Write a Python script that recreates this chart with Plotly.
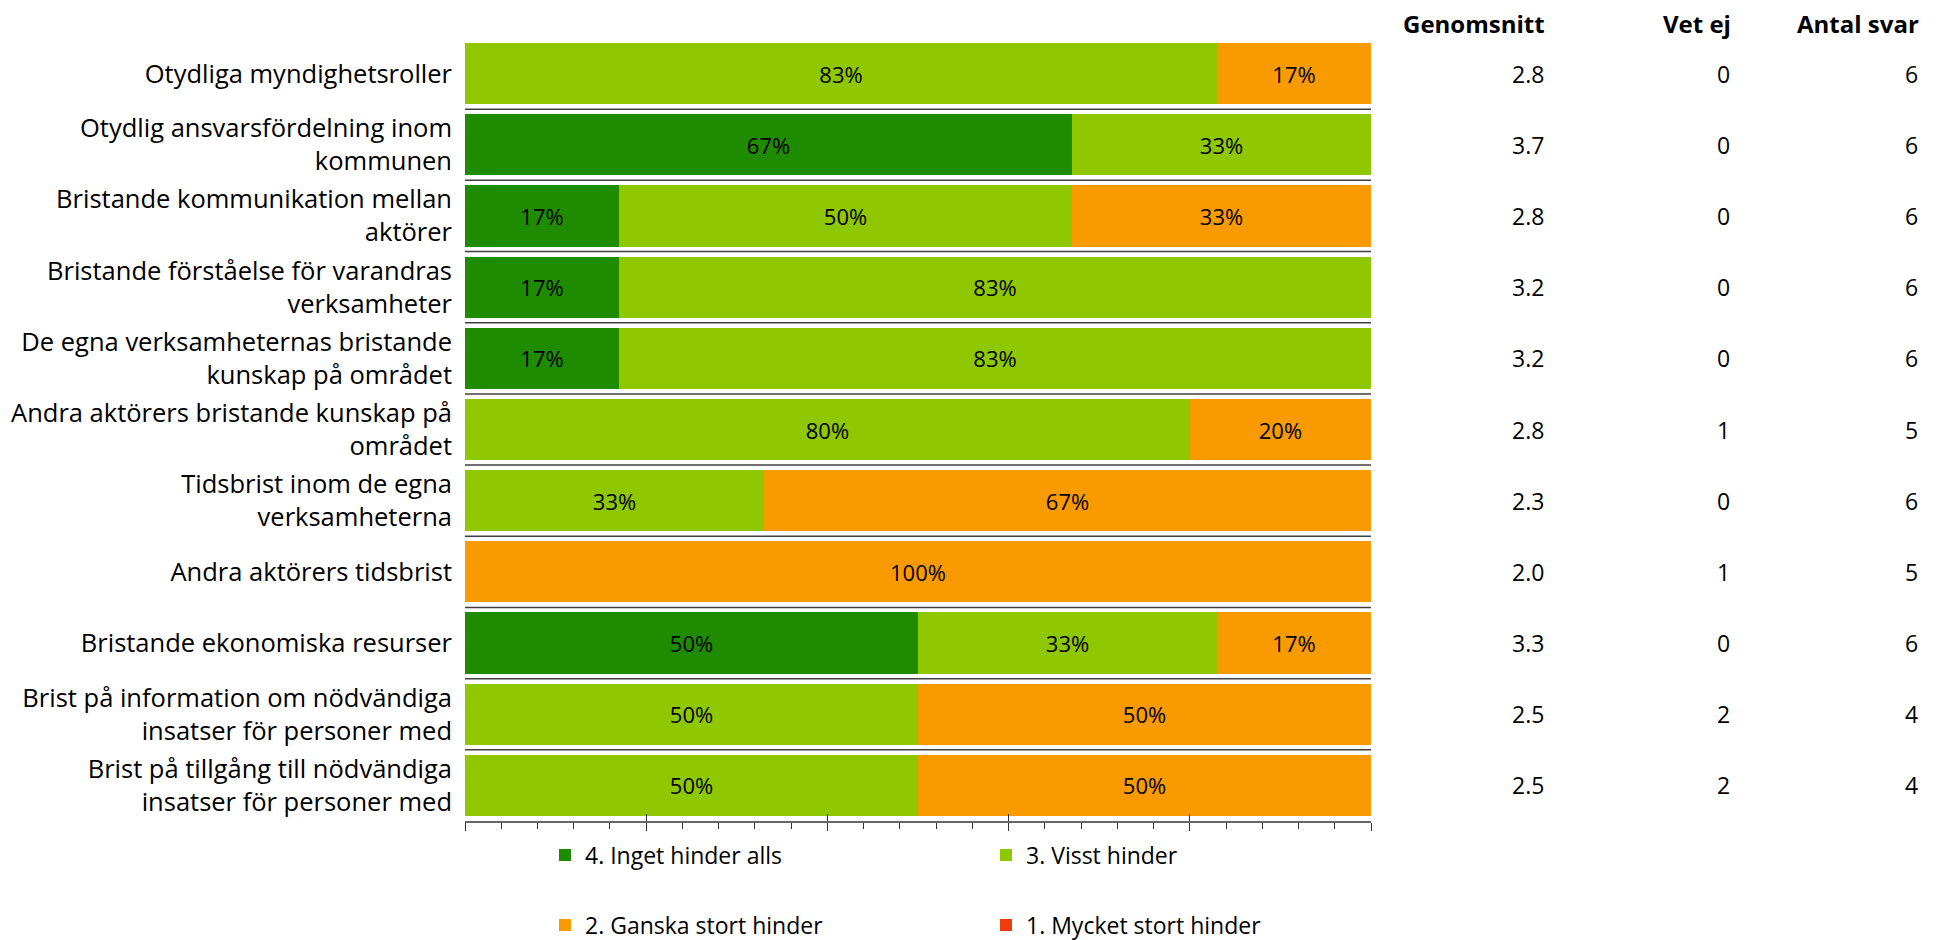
import plotly.graph_objects as go

categories = [
    "Otydliga myndighetsroller",
    "Otydlig ansvarsfördelning inom<br>kommunen",
    "Bristande kommunikation mellan<br>aktörer",
    "Bristande förståelse för varandras<br>verksamheter",
    "De egna verksamheternas bristande<br>kunskap på området",
    "Andra aktörers bristande kunskap på<br>området",
    "Tidsbrist inom de egna<br>verksamheterna",
    "Andra aktörers tidsbrist",
    "Bristande ekonomiska resurser",
    "Brist på information om nödvändiga<br>insatser för personer med",
    "Brist på tillgång till nödvändiga<br>insatser för personer med",
]

inget_hinder = [0, 67, 17, 17, 17, 0, 0, 0, 50, 0, 0]
visst_hinder = [83, 33, 50, 83, 83, 80, 33, 0, 33, 50, 50]
ganska_stort = [17, 0, 33, 0, 0, 20, 67, 100, 17, 50, 50]
mycket_stort = [0, 0, 0, 0, 0, 0, 0, 0, 0, 0, 0]

genomsnitt = ["2.8", "3.7", "2.8", "3.2", "3.2", "2.8", "2.3", "2.0", "3.3", "2.5", "2.5"]
vet_ej = [0, 0, 0, 0, 0, 1, 0, 1, 0, 2, 2]
antal_svar = [6, 6, 6, 6, 6, 5, 6, 5, 6, 4, 4]

series = [
    ("4. Inget hinder alls", inget_hinder, "#1F8C00", "legend"),
    ("3. Visst hinder", visst_hinder, "#8FC800", "legend"),
    ("2. Ganska stort hinder", ganska_stort, "#F99B00", "legend2"),
    ("1. Mycket stort hinder", mycket_stort, "#F03C0A", "legend2"),
]

FONT = "Open Sans"
# page body has an 8px margin, so the figure is 8px smaller and all positions shifted by 8
W, H = 1935, 932
ML, MT = 457, 30
PLOT_W, PLOT_H = 906, 783
MR = W - ML - PLOT_W
MB = H - MT - PLOT_H

fig = go.Figure()
for name, vals, color, lg in series:
    fig.add_trace(go.Bar(
        name=name, y=categories, x=vals, orientation="h",
        marker=dict(color=color, line=dict(width=0)),
        text=[f"{v}%" if v > 0 else "" for v in vals],
        textposition="inside", insidetextanchor="middle",
        insidetextfont=dict(family=FONT, size=22, color="black"),
        textangle=0, legend=lg, hoverinfo="x+y+name",
    ))

# overlay axis for the upward half of the major ticks
fig.add_trace(go.Scatter(x=[0, 100], y=[categories[0], categories[0]], xaxis="x2",
                         mode="markers", marker=dict(opacity=0), showlegend=False,
                         hoverinfo="skip"))

shapes = []
for i in range(len(categories) - 1):
    shapes.append(dict(type="line", xref="paper", yref="y", x0=0, x1=1,
                       y0=i + 0.5, y1=i + 0.5, line=dict(color="#404040", width=1.5)))

annotations = []
cols = [("Genomsnitt", genomsnitt, 1538), ("Vet ej", vet_ej, 1724), ("Antal svar", antal_svar, 1912)]
for head, vals, px in cols:
    xp = (px - ML) / PLOT_W
    annotations.append(dict(text=f"<b>{head}</b>", x=xp, xref="paper", xanchor="right",
                            y=1 + (MT - 16) / PLOT_H, yref="paper", yanchor="middle",
                            borderpad=0, showarrow=False,
                            font=dict(family=FONT, size=24, color="black")))
    for cat, v in zip(categories, vals):
        annotations.append(dict(text=str(v), x=xp, xref="paper", xanchor="right",
                                y=cat, yref="y", yanchor="middle", showarrow=False,
                                font=dict(family=FONT, size=23, color="black")))

fig.update_layout(
    width=W, height=H, barmode="stack", bargap=0.14,
    margin=dict(l=ML, r=MR, t=MT, b=MB, autoexpand=False),
    paper_bgcolor="white", plot_bgcolor="white",
    font=dict(family=FONT, color="black"),
    xaxis=dict(range=[0, 100], showgrid=False, zeroline=False, showline=True,
               linecolor="#666666", linewidth=2, showticklabels=False,
               ticks="outside", tick0=0, dtick=20, ticklen=8, tickcolor="#333333", tickwidth=1,
               minor=dict(ticks="outside", dtick=4, ticklen=6, tickcolor="#333333", tickwidth=1),
               fixedrange=True),
    xaxis2=dict(range=[0, 100], overlaying="x", anchor="y", side="bottom", showgrid=False,
                zeroline=False, showline=False, showticklabels=False,
                ticks="inside", tick0=0, dtick=20, ticklen=7, tickcolor="#333333", tickwidth=1),
    yaxis=dict(range=[10.5, -0.5], showgrid=False, zeroline=False, showline=False,
               ticks="", ticklabelstandoff=12,
               tickfont=dict(family=FONT, size=25.5, color="black")),
    shapes=shapes, annotations=annotations,
    legend=dict(orientation="h", xref="container", yref="container",
                x=537 / W, y=1 - 847 / H, xanchor="left", yanchor="middle",
                entrywidth=396, entrywidthmode="pixels",
                font=dict(family=FONT, size=23, color="black"), traceorder="normal",
                bgcolor="rgba(0,0,0,0)"),
    legend2=dict(orientation="h", xref="container", yref="container",
                 x=537 / W, y=1 - 917 / H, xanchor="left", yanchor="middle",
                 entrywidth=396, entrywidthmode="pixels",
                 font=dict(family=FONT, size=23, color="black"), traceorder="normal",
                 bgcolor="rgba(0,0,0,0)"),
    showlegend=True,
)

fig.write_html("out.html")
